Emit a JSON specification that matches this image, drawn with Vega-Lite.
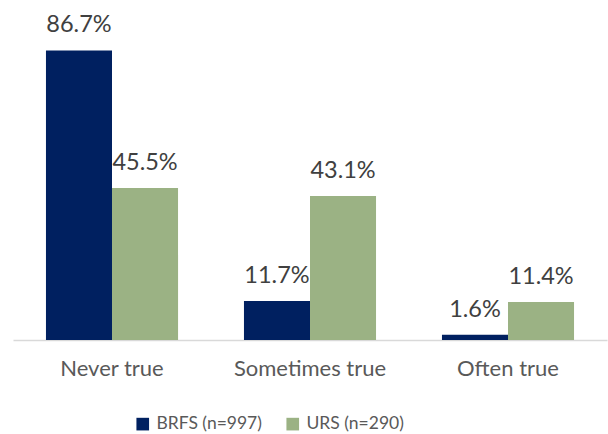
{
  "$schema": "https://vega.github.io/schema/vega-lite/v6.json",
  "width": 594,
  "height": 334,
  "autosize": "none",
  "padding": {"left": 13, "top": 6, "right": 1, "bottom": 94},
  "background": "white",
  "data": {"values": [
    {"category": "Never true", "series": "BRFS (n=997)", "value": 0.867},
    {"category": "Never true", "series": "URS (n=290)", "value": 0.455},
    {"category": "Sometimes true", "series": "BRFS (n=997)", "value": 0.117},
    {"category": "Sometimes true", "series": "URS (n=290)", "value": 0.431},
    {"category": "Often true", "series": "BRFS (n=997)", "value": 0.016},
    {"category": "Often true", "series": "URS (n=290)", "value": 0.114}
  ]},
  "encoding": {
    "x": {"field": "category", "type": "nominal", "sort": ["Never true", "Sometimes true", "Often true"],
      "scale": {"paddingInner": 0.333, "paddingOuter": 0.1665},
      "axis": {"title": null, "labelAngle": 0, "ticks": false, "domainColor": "#D9D9D9", "domainWidth": 1.5,
        "labelFont": "Lato", "labelFontSize": 22, "labelColor": "#595959", "labelPadding": 18}},
    "xOffset": {"field": "series", "type": "nominal", "sort": ["BRFS (n=997)", "URS (n=290)"]},
    "y": {"field": "value", "type": "quantitative", "scale": {"domain": [0, 1]}, "axis": null}
  },
  "layer": [
    {"mark": {"type": "bar"},
      "encoding": {
        "color": {"field": "series", "type": "nominal",
          "scale": {"domain": ["BRFS (n=997)", "URS (n=290)"], "range": ["#002060", "#9BB284"]},
          "legend": {"title": null, "orient": "none", "legendX": 121, "legendY": 409, "direction": "horizontal",
            "symbolType": "square", "symbolSize": 160, "symbolStrokeWidth": 0, "labelFont": "Lato", "labelFontSize": 17.5,
            "labelColor": "#595959", "columnPadding": 22, "labelOffset": 5}}
      }},
    {"mark": {"type": "text", "baseline": "alphabetic", "dy": -18, "font": "Lato", "fontSize": 23.5, "color": "#404040"},
      "encoding": {"text": {"field": "value", "type": "quantitative", "format": ".1%"}}}
  ],
  "config": {"view": {"stroke": null}}
}
